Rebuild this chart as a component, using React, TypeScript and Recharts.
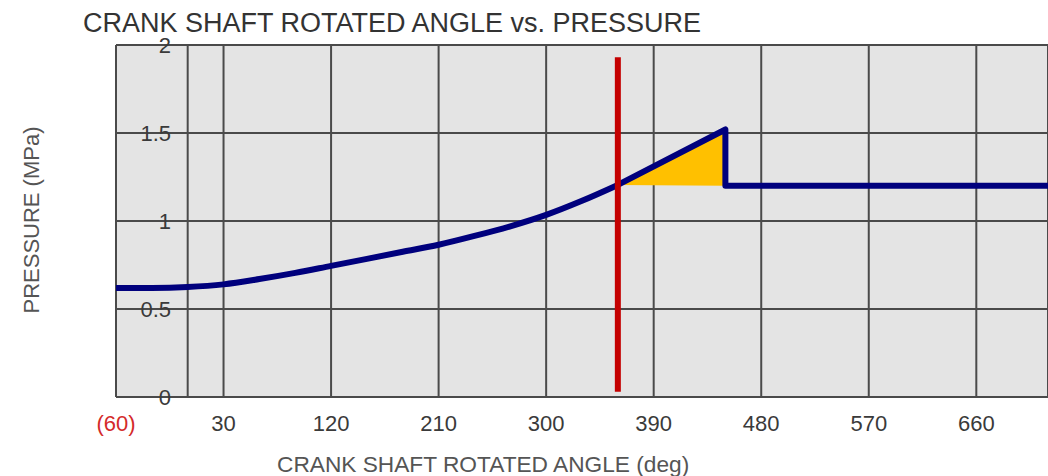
import React from 'react'
import {
  ComposedChart,
  Line,
  Area,
  XAxis,
  YAxis,
  CartesianGrid,
  ReferenceLine,
} from 'recharts'

// crank angle (deg) vs cylinder pressure (MPa)
const curveAngle = [-60, -30, 0, 30, 60, 90, 120, 150, 180, 210, 240, 270, 300, 330, 360]
const curvePressure = [0.62, 0.62, 0.625, 0.64, 0.67, 0.705, 0.745, 0.785, 0.825, 0.865, 0.915, 0.97, 1.035, 1.115, 1.205]

const rampAngle = [360, 450, 450, 720]
const rampPressure = [1.205, 1.52, 1.2, 1.2]

const wedgeAngle = [360, 450]
const wedgeLow = [1.205, 1.2]
const wedgeHigh = [1.205, 1.52]

const xTicks = [-60, 0, 30, 120, 210, 300, 390, 480, 570, 660]
const yTicks = [0, 0.5, 1, 1.5, 2]
const tdcAngle = 360

const curveData = curveAngle.map((angle, i) => ({ angle, p: curvePressure[i] }))
const rampData = rampAngle.map((angle, i) => ({ angle, p: rampPressure[i] }))
const wedgeData = wedgeAngle.map((angle, i) => ({ angle, band: [wedgeLow[i], wedgeHigh[i]] }))

const FONT = 'Arial, "Liberation Sans", sans-serif'

function XTick({ x, payload }: any) {
  const v = payload.value
  if (v === 0) return null
  const neg = v < 0
  return (
    <text x={x} y={431} textAnchor="middle" fontSize={22} fontFamily={FONT} fill={neg ? '#d42a2a' : '#3a3a3a'}>
      {neg ? `(${Math.abs(v)})` : v}
    </text>
  )
}

function YTick({ y, payload }: any) {
  return (
    <text x={171} y={y + 8} textAnchor="end" fontSize={22} fontFamily={FONT} fill="#3a3a3a">
      {payload.value}
    </text>
  )
}

export default function App() {
  return (
    <div style={{ position: 'absolute', left: 0, top: 0, width: 1048, height: 476, background: '#fff', fontFamily: FONT }}>
      <div
        style={{
          position: 'absolute',
          left: 83,
          top: 10,
          fontSize: 27,
          lineHeight: '27px',
          color: '#333',
          whiteSpace: 'nowrap',
        }}
      >
        CRANK SHAFT ROTATED ANGLE vs. PRESSURE
      </div>
      <div
        style={{
          position: 'absolute',
          left: 32 - 150,
          top: 220 - 11,
          width: 300,
          height: 22,
          fontSize: 22,
          lineHeight: '22px',
          textAlign: 'center',
          color: '#555',
          transform: 'rotate(-90deg)',
          whiteSpace: 'nowrap',
        }}
      >
        PRESSURE (MPa)
      </div>
      <div
        style={{
          position: 'absolute',
          left: 277,
          top: 453,
          fontSize: 22.7,
          lineHeight: '23px',
          color: '#555',
          whiteSpace: 'nowrap',
        }}
      >
        CRANK SHAFT ROTATED ANGLE (deg)
      </div>
      <ComposedChart
        width={1048}
        height={476}
        margin={{ top: 45, right: 0, bottom: 49, left: 0 }}
        style={{ position: 'absolute', left: 0, top: 0 }}
      >
        <CartesianGrid fill="#e4e4e4" stroke="#4a4a4a" strokeWidth={2} />
        <XAxis
          dataKey="angle"
          type="number"
          domain={[-60, 720]}
          ticks={xTicks}
          allowDataOverflow
          height={30}
          axisLine={false}
          tickLine={false}
          tick={<XTick />}
          interval={0}
        />
        <YAxis
          type="number"
          domain={[0, 2]}
          ticks={yTicks}
          width={116}
          axisLine={false}
          tickLine={false}
          tick={<YTick />}
          interval={0}
        />
        <Area
          data={wedgeData}
          dataKey="band"
          type="linear"
          fill="#ffc000"
          fillOpacity={1}
          stroke="none"
          isAnimationActive={false}
        />
        <Line
          data={curveData}
          dataKey="p"
          type="monotone"
          stroke="#00007d"
          strokeWidth={6}
          dot={false}
          isAnimationActive={false}
        />
        <Line
          data={rampData}
          dataKey="p"
          type="linear"
          stroke="#00007d"
          strokeWidth={6}
          strokeLinejoin="round"
          dot={false}
          isAnimationActive={false}
        />
        <ReferenceLine
          segment={[
            { x: tdcAngle, y: 1.93 },
            { x: tdcAngle, y: 0.03 },
          ]}
          stroke="#c40000"
          strokeWidth={6}
        />
      </ComposedChart>
    </div>
  )
}
